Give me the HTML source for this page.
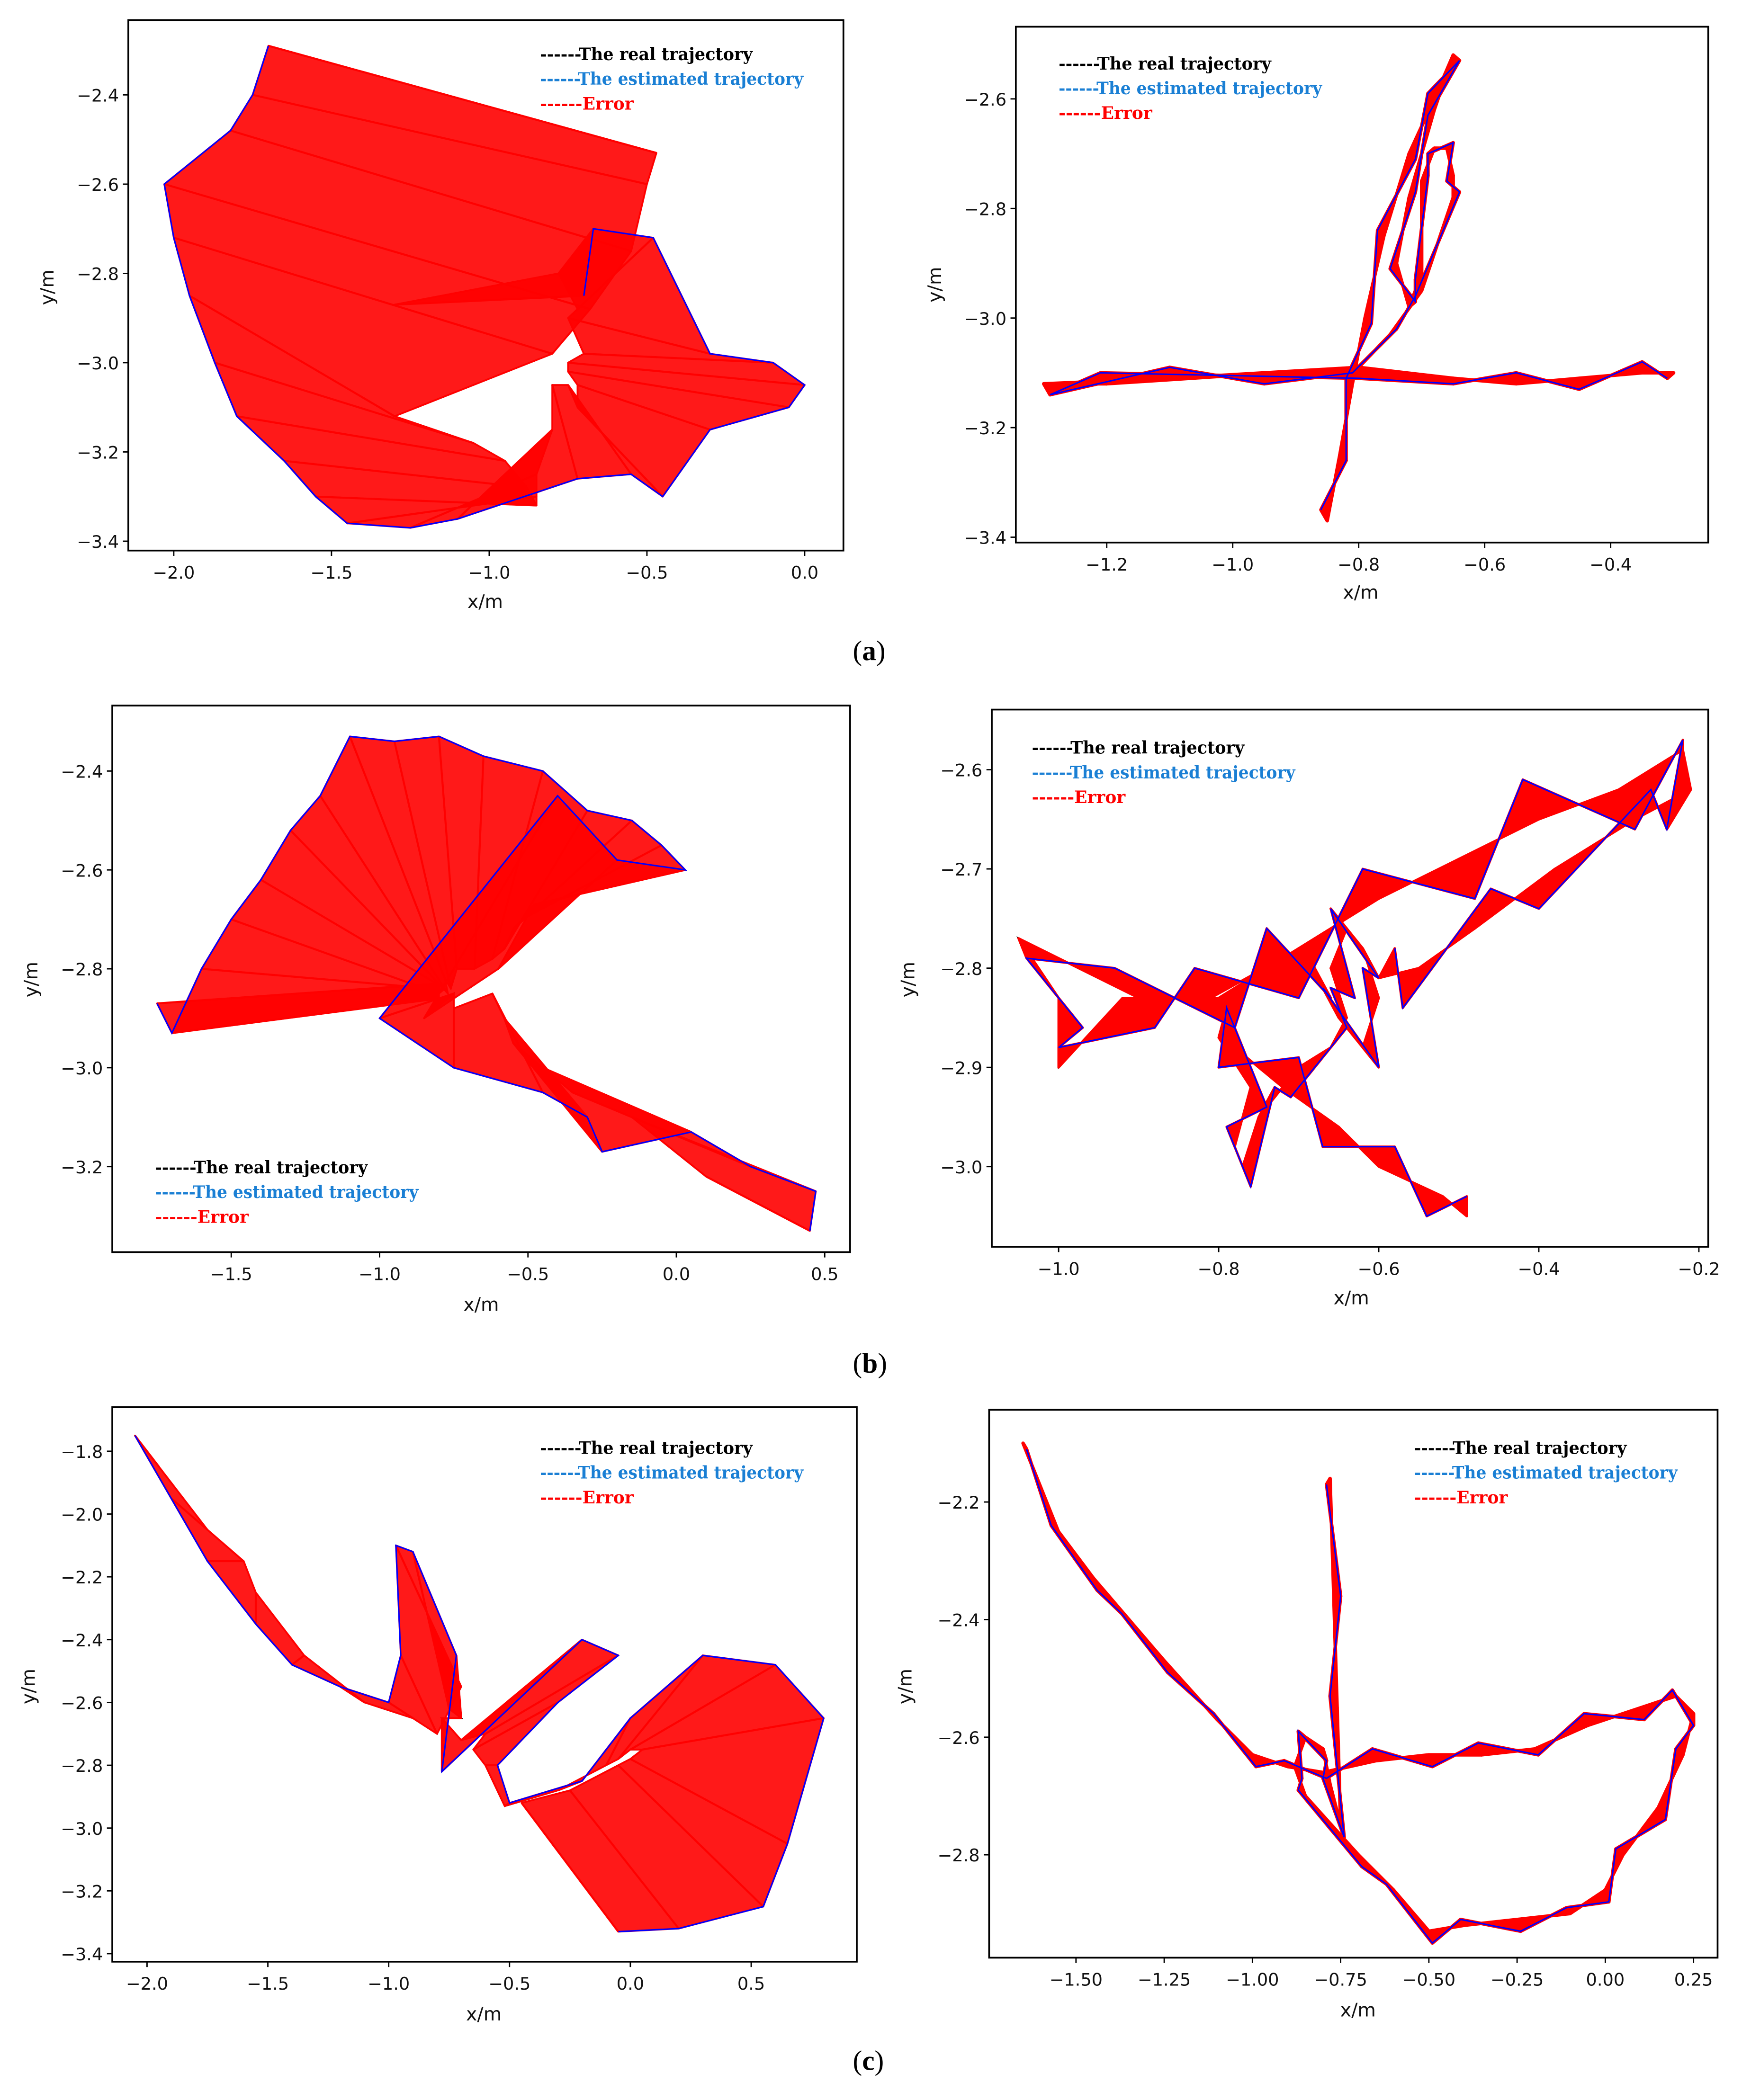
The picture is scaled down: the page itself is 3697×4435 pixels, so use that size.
<!DOCTYPE html>
<html><head><meta charset="utf-8">
<style>
html,body{margin:0;padding:0;background:#fff;}
svg{display:block;}
.tick{font-family:"DejaVu Sans","Liberation Sans",sans-serif;font-size:13px;fill:#111;}
.alab{font-family:"DejaVu Sans","Liberation Sans",sans-serif;font-size:14px;fill:#111;}
.leg{font-family:"DejaVu Serif","Liberation Serif",serif;font-size:13px;font-weight:bold;}
.cap{font-family:"Liberation Serif",serif;font-size:21px;fill:#000;}
</style></head>
<body>
<svg id="fig" xmlns="http://www.w3.org/2000/svg" width="3697" height="4435" viewBox="0 0 1310 1571.5" preserveAspectRatio="none">
<rect x="0" y="0" width="1310" height="1572" fill="#fff"/>
<text class="cap" x="638" y="494">(<tspan font-weight="bold">a</tspan>)</text>
<text class="cap" x="638" y="1027">(<tspan font-weight="bold">b</tspan>)</text>
<text class="cap" x="638" y="1549">(<tspan font-weight="bold">c</tspan>)</text>
</svg>
<script>
// ---- panel (a) left ----
const aLeftEstX=[-1.70,-1.75,-1.82,-2.03,-2.00,-1.95,-1.87,-1.80,-1.65,-1.55,-1.45,-1.25,-1.10,-0.72,-0.55,-0.45,-0.30,-0.05,0.00,-0.10,-0.30,-0.48,-0.67,-0.70];
const aLeftEstY=[-2.29,-2.40,-2.48,-2.60,-2.72,-2.85,-3.00,-3.12,-3.22,-3.30,-3.36,-3.37,-3.35,-3.26,-3.25,-3.30,-3.15,-3.10,-3.05,-3.00,-2.98,-2.72,-2.70,-2.85];
const aLeftRealX=[-0.47,-0.50,-0.55,-0.68,-0.80,-1.30,-1.05,-0.95,-0.88,-0.85,-0.85,-0.85,-0.80,-0.80,-0.75,-0.72,-0.72,-0.75,-0.75,-0.70,-0.75,-0.72,-0.78,-1.30];
const aLeftRealY=[-2.53,-2.60,-2.75,-2.88,-2.98,-3.12,-3.18,-3.22,-3.28,-3.32,-3.30,-3.25,-3.15,-3.05,-3.05,-3.10,-3.05,-3.02,-3.00,-2.98,-2.90,-2.88,-2.80,-2.87];
// ---- panel (a) right ----
const aRightRealX=[-0.85,-0.83,-0.81,-0.79,-0.76,-0.72,-0.68,-0.65,-0.68,-0.72,-0.74,-0.72,-0.70,-0.70,-0.68,-0.66,-0.65,-0.65,-0.70,-0.75,-0.80,-0.95,-1.10,-1.30,-1.20,-0.80,-0.65,-0.55,-0.45,-0.35,-0.30];
const aRightRealY=[-3.37,-3.25,-3.12,-3.00,-2.85,-2.70,-2.60,-2.52,-2.62,-2.78,-2.90,-2.98,-2.92,-2.75,-2.69,-2.69,-2.74,-2.78,-2.95,-3.03,-3.09,-3.10,-3.11,-3.12,-3.12,-3.09,-3.11,-3.12,-3.11,-3.10,-3.10];
const aRightEstX=[-0.86,-0.82,-0.82,-0.78,-0.77,-0.71,-0.69,-0.64,-0.69,-0.71,-0.75,-0.71,-0.71,-0.69,-0.69,-0.65,-0.66,-0.64,-0.71,-0.74,-0.81,-0.95,-1.10,-1.29,-1.21,-0.80,-0.65,-0.55,-0.45,-0.35,-0.31];
const aRightEstY=[-3.35,-3.26,-3.11,-3.01,-2.84,-2.71,-2.59,-2.53,-2.63,-2.77,-2.91,-2.97,-2.93,-2.74,-2.70,-2.68,-2.75,-2.77,-2.96,-3.02,-3.10,-3.12,-3.09,-3.14,-3.10,-3.11,-3.12,-3.10,-3.13,-3.08,-3.11];
// ---- panel (b) left ----
const bLeftEstX=[-1.75,-1.70,-1.60,-1.50,-1.40,-1.30,-1.20,-1.10,-0.95,-0.80,-0.65,-0.45,-0.30,-0.15,-0.05,0.03,-0.20,-0.40,-1.00,-0.75,-0.45,-0.30,-0.25,0.05,0.25,0.47,0.45];
const bLeftEstY=[-2.87,-2.93,-2.80,-2.70,-2.62,-2.52,-2.45,-2.33,-2.34,-2.33,-2.37,-2.40,-2.48,-2.50,-2.55,-2.60,-2.58,-2.45,-2.90,-3.00,-3.05,-3.10,-3.17,-3.13,-3.20,-3.25,-3.33];
const bLeftRealX=[-0.80,-0.80,-0.82,-0.80,-0.78,-0.80,-0.77,-0.78,-0.76,-0.74,-0.68,-0.62,-0.58,-0.55,-0.52,-0.48,-0.60,-0.85,-0.75,-0.75,-0.62,-0.58,-0.55,-0.45,-0.35,-0.15,0.10];
const bLeftRealY=[-2.83,-2.86,-2.84,-2.85,-2.84,-2.83,-2.85,-2.82,-2.84,-2.80,-2.80,-2.78,-2.76,-2.72,-2.70,-2.67,-2.80,-2.90,-2.85,-2.88,-2.85,-2.90,-2.95,-3.00,-3.05,-3.10,-3.22];
// ---- panel (b) right ----
const bRightRealX=[-0.49,-0.52,-0.60,-0.65,-0.72,-0.78,-0.80,-0.76,-0.78,-0.77,-0.75,-0.70,-0.66,-0.64,-0.66,-0.64,-0.62,-0.60,-0.62,-0.65,-0.68,-0.72,-0.80,-0.90,-1.05,-1.00,-1.00,-0.92,-0.81,-0.72,-0.60,-0.50,-0.40,-0.30,-0.22,-0.21,-0.28,-0.38,-0.48,-0.55,-0.60];
const bRightRealY=[-3.05,-3.03,-3.00,-2.96,-2.92,-2.88,-2.87,-2.92,-2.98,-3.00,-2.95,-2.90,-2.88,-2.85,-2.80,-2.76,-2.78,-2.83,-2.88,-2.85,-2.80,-2.79,-2.83,-2.83,-2.77,-2.83,-2.90,-2.83,-2.83,-2.79,-2.73,-2.69,-2.65,-2.62,-2.58,-2.62,-2.65,-2.70,-2.76,-2.80,-2.81];
const bRightEstX=[-0.49,-0.54,-0.58,-0.67,-0.70,-0.80,-0.79,-0.74,-0.79,-0.76,-0.73,-0.71,-0.64,-0.66,-0.63,-0.66,-0.60,-0.62,-0.60,-0.67,-0.66,-0.74,-0.78,-0.93,-1.04,-0.97,-1.00,-0.88,-0.83,-0.70,-0.62,-0.48,-0.42,-0.28,-0.22,-0.24,-0.26,-0.40,-0.46,-0.57,-0.58];
const bRightEstY=[-3.03,-3.05,-2.98,-2.98,-2.89,-2.90,-2.84,-2.94,-2.96,-3.02,-2.92,-2.93,-2.86,-2.82,-2.83,-2.74,-2.81,-2.80,-2.90,-2.82,-2.83,-2.76,-2.86,-2.80,-2.79,-2.86,-2.88,-2.86,-2.80,-2.83,-2.70,-2.73,-2.61,-2.66,-2.57,-2.66,-2.62,-2.74,-2.72,-2.84,-2.78];
// ---- panel (c) left ----
const cLeftEstX=[-2.05,-1.90,-1.75,-1.55,-1.40,-1.20,-1.00,-0.95,-0.97,-0.90,-0.72,-0.78,-0.20,-0.05,-0.30,-0.55,-0.50,-0.20,0.00,0.30,0.60,0.80,0.65,0.55,0.20,-0.05];
const cLeftEstY=[-1.75,-1.95,-2.15,-2.35,-2.48,-2.55,-2.60,-2.45,-2.10,-2.12,-2.45,-2.82,-2.40,-2.45,-2.60,-2.80,-2.92,-2.85,-2.65,-2.45,-2.48,-2.65,-3.05,-3.25,-3.32,-3.33];
const cLeftRealX=[-1.95,-1.75,-1.60,-1.55,-1.35,-1.10,-0.90,-0.80,-0.70,-0.75,-0.70,-0.78,-0.70,-0.60,-0.65,-0.60,-0.52,-0.30,-0.10,-0.05,0.00,0.05,0.00,-0.05,-0.25,-0.45];
const cLeftRealY=[-1.85,-2.05,-2.15,-2.25,-2.45,-2.60,-2.65,-2.70,-2.55,-2.62,-2.65,-2.65,-2.72,-2.70,-2.75,-2.80,-2.93,-2.88,-2.80,-2.78,-2.75,-2.75,-2.78,-2.80,-2.88,-2.92];
// ---- panel (c) right ----
const cRightRealX=[-1.65,-1.55,-1.45,-1.35,-1.25,-1.10,-1.00,-0.90,-0.80,-0.65,-0.50,-0.35,-0.20,-0.05,0.10,0.20,0.25,0.22,0.15,0.05,0.00,-0.10,-0.25,-0.40,-0.50,-0.60,-0.70,-0.85,-0.88,-0.85,-0.80,-0.78,-0.75,-0.76,-0.77,-0.78];
const cRightRealY=[-2.10,-2.25,-2.33,-2.40,-2.47,-2.57,-2.63,-2.65,-2.66,-2.64,-2.63,-2.63,-2.62,-2.58,-2.55,-2.53,-2.56,-2.63,-2.72,-2.80,-2.86,-2.90,-2.91,-2.92,-2.93,-2.86,-2.80,-2.70,-2.65,-2.60,-2.62,-2.68,-2.75,-2.55,-2.35,-2.16];
const cRightEstX=[-1.64,-1.57,-1.44,-1.37,-1.24,-1.11,-0.99,-0.91,-0.79,-0.66,-0.49,-0.36,-0.19,-0.06,0.11,0.19,0.25,0.20,0.17,0.03,0.01,-0.11,-0.24,-0.41,-0.49,-0.62,-0.69,-0.87,-0.86,-0.87,-0.79,-0.80,-0.74,-0.78,-0.75,-0.79];
const cRightEstY=[-2.11,-2.24,-2.35,-2.39,-2.49,-2.56,-2.65,-2.64,-2.67,-2.62,-2.65,-2.61,-2.63,-2.56,-2.57,-2.52,-2.58,-2.62,-2.74,-2.79,-2.88,-2.89,-2.93,-2.91,-2.95,-2.85,-2.82,-2.69,-2.67,-2.59,-2.64,-2.67,-2.77,-2.53,-2.36,-2.17];

const xTicksA1=[-2.0,-1.5,-1.0,-0.5,0.0], xLabA1=["−2.0","−1.5","−1.0","−0.5","0.0"];
const yTicksA1=[-2.4,-2.6,-2.8,-3.0,-3.2,-3.4], yLabA1=["−2.4","−2.6","−2.8","−3.0","−3.2","−3.4"];
const xTicksA2=[-1.2,-1.0,-0.8,-0.6,-0.4], xLabA2=["−1.2","−1.0","−0.8","−0.6","−0.4"];
const yTicksA2=[-2.6,-2.8,-3.0,-3.2,-3.4], yLabA2=["−2.6","−2.8","−3.0","−3.2","−3.4"];
const xTicksB1=[-1.5,-1.0,-0.5,0.0,0.5], xLabB1=["−1.5","−1.0","−0.5","0.0","0.5"];
const yTicksB1=[-2.4,-2.6,-2.8,-3.0,-3.2], yLabB1=["−2.4","−2.6","−2.8","−3.0","−3.2"];
const xTicksB2=[-1.0,-0.8,-0.6,-0.4,-0.2], xLabB2=["−1.0","−0.8","−0.6","−0.4","−0.2"];
const yTicksB2=[-2.6,-2.7,-2.8,-2.9,-3.0], yLabB2=["−2.6","−2.7","−2.8","−2.9","−3.0"];
const xTicksC1=[-2.0,-1.5,-1.0,-0.5,0.0,0.5], xLabC1=["−2.0","−1.5","−1.0","−0.5","0.0","0.5"];
const yTicksC1=[-1.8,-2.0,-2.2,-2.4,-2.6,-2.8,-3.0,-3.2,-3.4], yLabC1=["−1.8","−2.0","−2.2","−2.4","−2.6","−2.8","−3.0","−3.2","−3.4"];
const xTicksC2=[-1.5,-1.25,-1.0,-0.75,-0.5,-0.25,0.0,0.25], xLabC2=["−1.50","−1.25","−1.00","−0.75","−0.50","−0.25","0.00","0.25"];
const yTicksC2=[-2.2,-2.4,-2.6,-2.8], yLabC2=["−2.2","−2.4","−2.6","−2.8"];

const NS="http://www.w3.org/2000/svg";
const fig=document.getElementById('fig');
function mk(tag,attrs,parent){const e=document.createElementNS(NS,tag);for(const k in attrs)e.setAttribute(k,attrs[k]);(parent||fig).appendChild(e);return e;}

const panels=[
 {id:'a-left',f:[96,15,631,412],xm:[-2.0,130,0.0,602],ym:[-2.4,71,-3.4,405],xt:xTicksA1,xl:xLabA1,yt:yTicksA1,yl:yLabA1,leg:[404,45],xlab:[363,455],ylab:[40,215],rx:aLeftRealX,ry:aLeftRealY,ex:aLeftEstX,ey:aLeftEstY,op:0.9,sw:1.3},
 {id:'a-right',f:[760,20,1278,406],xm:[-1.2,828,-0.4,1205],ym:[-2.6,74,-3.4,402],xt:xTicksA2,xl:xLabA2,yt:yTicksA2,yl:yLabA2,leg:[792,52],xlab:[1018,448],ylab:[704,213],rx:aRightRealX,ry:aRightRealY,ex:aRightEstX,ey:aRightEstY,op:1,sw:2.6},
 {id:'b-left',f:[84,528,636,937],xm:[-1.5,173,0.5,617],ym:[-2.4,577,-3.2,873],xt:xTicksB1,xl:xLabB1,yt:yTicksB1,yl:yLabB1,leg:[116,878],xlab:[360,981],ylab:[28,733],rx:bLeftRealX,ry:bLeftRealY,ex:bLeftEstX,ey:bLeftEstY,op:0.9,sw:1.3},
 {id:'b-right',f:[742,531,1278,933],xm:[-1.0,792,-0.2,1271],ym:[-2.6,576,-3.0,873],xt:xTicksB2,xl:xLabB2,yt:yTicksB2,yl:yLabB2,leg:[772,564],xlab:[1011,976],ylab:[684,733],rx:bRightRealX,ry:bRightRealY,ex:bRightEstX,ey:bRightEstY,op:1,sw:1.8},
 {id:'c-left',f:[84,1053,641,1468],xm:[-2.0,110,0.5,562],ym:[-1.8,1086,-3.4,1462],xt:xTicksC1,xl:xLabC1,yt:yTicksC1,yl:yLabC1,leg:[404,1088],xlab:[362,1512],ylab:[26,1262],rx:cLeftRealX,ry:cLeftRealY,ex:cLeftEstX,ey:cLeftEstY,op:0.9,sw:1.3},
 {id:'c-right',f:[740,1055,1285,1465],xm:[-1.5,805,0.25,1267],ym:[-2.2,1124,-2.8,1388],xt:xTicksC2,xl:xLabC2,yt:yTicksC2,yl:yLabC2,leg:[1058,1088],xlab:[1016,1509],ylab:[682,1262],rx:cRightRealX,ry:cRightRealY,ex:cRightEstX,ey:cRightEstY,op:1,sw:2.6}
];

panels.forEach(p=>{
 const g=mk('g',{});
 
 
 const sx=v=>p.xm[1]+(v-p.xm[0])*(p.xm[3]-p.xm[1])/(p.xm[2]-p.xm[0]);
 const sy=v=>p.ym[1]+(v-p.ym[0])*(p.ym[3]-p.ym[1])/(p.ym[2]-p.ym[0]);
 const [x0,y0,x1,y1]=p.f;
 const cid='clip-'+p.id;
 const cp=mk('clipPath',{id:cid},g);
 mk('rect',{x:x0,y:y0,width:x1-x0,height:y1-y0},cp);
 const plot=mk('g',{'clip-path':'url(#'+cid+')'},g);
 
 
 const rp=p.rx.map((v,i)=>sx(v).toFixed(1)+','+sy(p.ry[i]).toFixed(1)).join(' ');
 const ep=p.ex.map((v,i)=>sx(v).toFixed(1)+','+sy(p.ey[i]).toFixed(1)).join(' ');
 const real=mk('polyline',{points:rp,fill:'none',stroke:'#000','stroke-width':1.2},plot);
 
 
 for(let i=0;i<p.rx.length-1;i++){
  const q=mk('polygon',{points:[sx(p.ex[i]),sy(p.ey[i]),sx(p.ex[i+1]),sy(p.ey[i+1]),sx(p.rx[i+1]),sy(p.ry[i+1]),sx(p.rx[i]),sy(p.ry[i])].join(' '),fill:'#ff0000','fill-opacity':p.op,stroke:'#ff0000','stroke-width':p.sw,'stroke-linejoin':'round'},plot);
  
  
 }
 for(let i=0;i<p.rx.length;i++){
  const l=mk('line',{x1:sx(p.ex[i]),y1:sy(p.ey[i]),x2:sx(p.rx[i]),y2:sy(p.ry[i]),stroke:'#ff0000','stroke-width':1.5},plot);
  
  
 }
 const est=mk('polyline',{points:ep,fill:'none',stroke:'#0000ff','stroke-width':1.1},plot);
 
 
 const fr=mk('rect',{x:x0,y:y0,width:x1-x0,height:y1-y0,fill:'none',stroke:'#000','stroke-width':1.3},g);
 
 
 p.xt.forEach((v,i)=>{
  const X=sx(v);
  mk('line',{x1:X,y1:y1,x2:X,y2:y1+4,stroke:'#000','stroke-width':1},g);
  const t=mk('text',{x:X,y:y1+21,'text-anchor':'middle',class:'tick'},g);
  t.textContent=p.xl[i];
  
  
 });
 p.yt.forEach((v,i)=>{
  const Y=sy(v);
  mk('line',{x1:x0-4,y1:Y,x2:x0,y2:Y,stroke:'#000','stroke-width':1},g);
  const t=mk('text',{x:x0-7,y:Y+5,'text-anchor':'end',class:'tick'},g);
  t.textContent=p.yl[i];
  
  
 });
 const xl=mk('text',{x:p.xlab[0],y:p.xlab[1],'text-anchor':'middle',class:'alab'},g);
 xl.textContent='x/m';
 
 
 const yl=mk('text',{x:p.ylab[0],y:p.ylab[1],'text-anchor':'middle',class:'alab',transform:'rotate(-90 '+p.ylab[0]+' '+p.ylab[1]+')'},g);
 yl.textContent='y/m';
 
 
 const legTexts=['------The real trajectory','------The estimated trajectory','------Error'];
 const legLens=[159,197,70];
 const legCols=['#000','#1a7fd4','#ff0000'];
 const names=['legend-real','legend-estimated','legend-error'];
 legTexts.forEach((s,i)=>{
  const t=mk('text',{x:p.leg[0],y:p.leg[1]+i*18.5,class:'leg',fill:legCols[i],textLength:legLens[i],lengthAdjust:'spacingAndGlyphs'},g);
  t.textContent=s;
  
  
 });
});
</script>
</body></html>
